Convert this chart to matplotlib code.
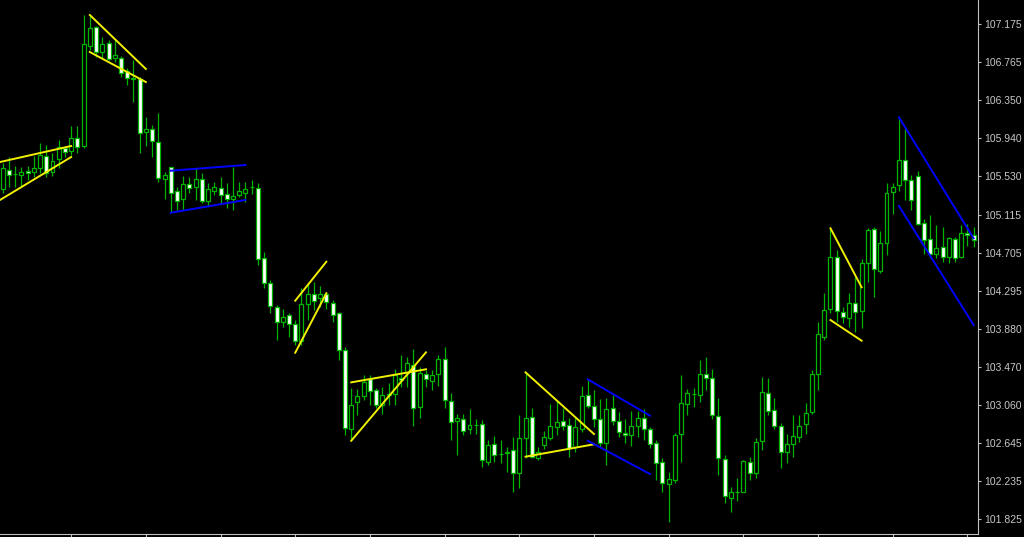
import matplotlib
matplotlib.use('Agg')
import matplotlib.pyplot as plt

# OHLC prices, one per bar (oldest first)
opens = [105.393, 105.598, 105.555, 105.544, 105.587, 105.576, 105.619, 105.749, 105.576, 105.717,
         105.836, 105.803, 105.944, 105.857, 106.937, 107.142, 106.872, 106.970, 106.807, 106.807,
         106.667, 106.591, 106.581, 106.008, 106.041, 105.900, 105.501, 105.630, 105.371, 105.285,
         105.447, 105.414, 105.501, 105.263, 105.371, 105.403, 105.339, 105.285, 105.328, 105.349,
         105.414, 105.403, 104.647, 104.377, 104.117, 103.955, 104.031, 103.934, 103.750, 104.150,
         104.259, 104.215, 104.259, 104.161, 104.053, 103.653, 102.800, 103.091, 103.156, 103.340,
         103.221, 103.059, 103.167, 103.178, 103.351, 103.404, 103.491, 103.037, 103.394, 103.318,
         103.394, 103.556, 103.102, 102.886, 102.908, 102.800, 102.843, 102.854, 102.443, 102.638,
         102.530, 102.540, 102.573, 102.324, 102.702, 102.930, 102.486, 102.627, 102.702, 102.821,
         102.886, 102.843, 102.605, 102.800, 103.167, 103.048, 102.908, 102.649, 103.027, 102.886,
         102.756, 102.735, 102.832, 102.919, 102.800, 102.649, 102.443, 102.205, 102.249, 102.746,
         103.070, 103.178, 103.167, 103.394, 103.351, 102.940, 102.475, 102.055, 102.119, 102.119,
         102.443, 102.324, 102.670, 103.188, 103.005, 102.832, 102.551, 102.638, 102.713, 102.854,
         102.984, 103.394, 103.793, 104.096, 104.658, 104.063, 103.999, 104.161, 104.074, 104.593,
         104.961, 104.507, 104.809, 105.360, 105.436, 105.706, 105.490, 105.533, 105.025, 104.853,
         104.691, 104.766, 104.658, 104.853, 104.658, 104.917, 104.896]
highs = [105.673, 105.738, 105.641, 105.630, 105.641, 105.749, 105.890, 105.868, 105.781, 105.922,
         105.857, 106.073, 106.073, 107.272, 107.272, 107.153, 107.034, 107.002, 107.002, 106.829,
         106.699, 106.786, 106.602, 106.170, 106.084, 106.214, 105.576, 105.630, 105.414, 105.533,
         105.522, 105.619, 105.565, 105.457, 105.468, 105.522, 105.457, 105.630, 105.468, 105.468,
         105.490, 105.457, 104.712, 104.410, 104.139, 104.096, 104.053, 103.977, 104.323, 104.377,
         104.388, 104.345, 104.280, 104.193, 104.063, 103.685, 103.242, 103.231, 103.383, 103.383,
         103.242, 103.253, 103.296, 103.448, 103.599, 103.577, 103.664, 103.469, 103.437, 103.437,
         103.599, 103.685, 103.188, 102.962, 102.962, 103.016, 102.908, 102.897, 102.681, 102.724,
         102.681, 102.605, 102.713, 102.951, 103.415, 103.027, 102.605, 102.778, 103.070, 103.113,
         103.027, 102.919, 102.919, 103.264, 103.329, 103.221, 103.124, 103.134, 103.167, 102.984,
         102.908, 102.994, 102.994, 103.016, 102.821, 102.681, 102.486, 102.335, 102.756, 103.383,
         103.231, 103.242, 103.545, 103.577, 103.448, 103.134, 102.519, 102.174, 102.270, 102.465,
         102.497, 102.702, 103.361, 103.351, 103.134, 102.864, 102.746, 102.951, 102.951, 103.081,
         103.437, 103.955, 104.269, 104.971, 104.734, 104.117, 104.269, 104.442, 104.637, 104.971,
         104.982, 104.939, 105.457, 105.457, 106.170, 106.052, 105.544, 105.587, 105.069, 105.112,
         105.004, 104.982, 104.874, 104.874, 105.004, 105.015, 104.982]
lows = [105.349, 105.414, 105.414, 105.425, 105.490, 105.522, 105.565, 105.522, 105.533, 105.619,
        105.738, 105.760, 105.781, 105.836, 106.894, 106.818, 106.807, 106.786, 106.764, 106.602,
        106.516, 106.332, 105.781, 105.857, 105.738, 105.468, 105.285, 105.144, 105.166, 105.166,
        105.349, 105.274, 105.242, 105.209, 105.328, 105.242, 105.188, 105.166, 105.306, 105.252,
        105.339, 104.572, 104.323, 104.053, 103.761, 103.901, 103.793, 103.707, 103.707, 103.977,
        104.085, 104.117, 104.096, 103.955, 103.545, 102.735, 102.681, 102.951, 103.113, 103.059,
        103.027, 102.962, 103.059, 103.059, 103.253, 103.253, 102.832, 102.919, 103.253, 103.221,
        103.264, 103.027, 102.681, 102.519, 102.735, 102.746, 102.746, 102.389, 102.411, 102.443,
        102.432, 102.335, 102.119, 102.162, 102.486, 102.486, 102.465, 102.583, 102.681, 102.735,
        102.789, 102.497, 102.551, 102.767, 103.027, 102.821, 102.605, 102.411, 102.843, 102.713,
        102.649, 102.616, 102.713, 102.681, 102.594, 102.249, 102.119, 101.795, 102.216, 102.443,
        102.951, 103.037, 103.091, 103.221, 102.908, 102.303, 102.001, 101.903, 102.022, 102.119,
        102.249, 102.270, 102.573, 102.951, 102.800, 102.378, 102.432, 102.497, 102.659, 102.746,
        102.962, 103.221, 103.761, 104.053, 103.955, 103.945, 103.901, 103.847, 103.891, 104.388,
        104.226, 104.485, 104.680, 105.123, 105.371, 105.274, 105.166, 105.004, 104.691, 104.647,
        104.647, 104.604, 104.593, 104.604, 104.647, 104.777, 104.766]
closes = [105.619, 105.544, 105.550, 105.576, 105.565, 105.619, 105.760, 105.565, 105.695, 105.846,
          105.792, 105.944, 105.846, 106.959, 107.132, 106.872, 106.959, 106.797, 106.840, 106.645,
          106.591, 106.581, 105.998, 106.041, 105.911, 105.511, 105.544, 105.349, 105.263, 105.447,
          105.403, 105.501, 105.263, 105.393, 105.414, 105.328, 105.285, 105.317, 105.371, 105.393,
          105.410, 104.637, 104.377, 104.128, 103.955, 104.009, 103.934, 103.750, 104.150, 104.259,
          104.182, 104.259, 104.171, 104.031, 103.653, 102.811, 103.059, 103.156, 103.307, 103.210,
          103.059, 103.167, 103.178, 103.383, 103.329, 103.512, 103.027, 103.404, 103.340, 103.383,
          103.556, 103.113, 102.875, 102.919, 102.778, 102.843, 102.840, 102.465, 102.627, 102.519,
          102.527, 102.551, 102.324, 102.702, 102.919, 102.497, 102.551, 102.713, 102.832, 102.875,
          102.832, 102.594, 102.821, 103.156, 103.048, 102.908, 102.649, 103.016, 102.886, 102.767,
          102.735, 102.832, 102.919, 102.800, 102.638, 102.432, 102.216, 102.259, 102.735, 103.081,
          103.188, 103.175, 103.394, 103.351, 102.951, 102.486, 102.076, 102.119, 102.115, 102.454,
          102.324, 102.659, 103.199, 102.994, 102.832, 102.551, 102.638, 102.724, 102.832, 102.973,
          103.394, 103.826, 104.085, 104.658, 104.074, 104.009, 104.161, 104.063, 104.593, 104.950,
          104.528, 104.809, 105.349, 105.414, 105.706, 105.490, 105.274, 105.015, 104.842, 104.691,
          104.755, 104.658, 104.863, 104.647, 104.917, 104.896, 104.842]

# trendlines: ((bar, price), (bar, price))
yellow_lines = [((-0.43, 105.684), (11, 105.857)),
                ((-0.43, 105.274), (11, 105.738)),
                ((14, 107.272), (23, 106.689)),
                ((14, 106.872), (23, 106.548)),
                ((47, 104.186), (52, 104.607)),
                ((47, 103.624), (52, 104.266)),
                ((56, 103.304), (68, 103.445)),
                ((56, 102.673), (68, 103.628)),
                ((84, 103.412), (95, 102.746)),
                ((84, 102.501), (95, 102.635)),
                ((133, 104.968), (138, 104.331)),
                ((133, 103.977), (138, 103.754))]
blue_lines = [((27, 105.590), (39, 105.652)),
              ((27, 105.136), (39, 105.274)),
              ((94, 103.337), (104, 102.944)),
              ((94, 102.673), (104, 102.314)),
              ((144, 106.167), (156, 104.860)),
              ((144, 105.209), (156, 103.923))]

price_ticks = [101.825, 102.235, 102.645, 103.060, 103.470, 103.880, 104.295,
               104.705, 105.115, 105.530, 105.940, 106.350, 106.765, 107.175]

green = '#00b400'
fig = plt.figure(figsize=(10.24, 5.37), dpi=100, facecolor='black')
ax = fig.add_axes([0, 3 / 537, 978 / 1024, 534 / 537], facecolor='black')

x = list(range(len(opens)))
ax.vlines(x, lows, highs, color=green, linewidth=0.9, zorder=1)
bottoms = [min(o, c) for o, c in zip(opens, closes)]
heights = [max(abs(c - o), 0.004) for o, c in zip(opens, closes)]
fills = ['black' if c >= o else 'white' for o, c in zip(opens, closes)]
ax.bar(x, heights, bottom=bottoms, width=0.64, color=fills,
       edgecolor=green, linewidth=0.9, zorder=2)

for (x0, y0), (x1, y1) in yellow_lines:
    ax.plot([x0, x1], [y0, y1], color='#f0f000', linewidth=1.4, zorder=3)
for (x0, y0), (x1, y1) in blue_lines:
    ax.plot([x0, x1], [y0, y1], color='#0000ff', linewidth=1.4, zorder=3)

ax.set_xlim(-0.434, 156.7)
ax.set_ylim(101.666, 107.434)

for side in ['left', 'top']:
    ax.spines[side].set_visible(False)
for side in ['right', 'bottom']:
    ax.spines[side].set_color('#c0c0c0')
    ax.spines[side].set_linewidth(0.8)

ax.yaxis.tick_right()
ax.set_yticks(price_ticks)
ax.set_yticklabels(['%.3f' % p for p in price_ticks])
ax.set_xticks(list(range(11, len(opens), 12)))
ax.set_xticklabels([])
ax.tick_params(axis='y', colors='#c0c0c0', labelcolor='#c8c8c8', length=2.5,
               width=0.8, pad=2, labelsize=7.5)
ax.tick_params(axis='x', colors='#c0c0c0', length=2.5, width=0.8)
for lbl in ax.get_yticklabels():
    lbl.set_family(['Liberation Sans', 'DejaVu Sans'])

fig.savefig('out.png', dpi=100, facecolor='black')
